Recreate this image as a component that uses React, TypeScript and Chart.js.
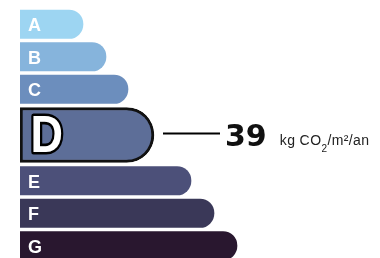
import React, { useEffect, useRef } from "react";
import { Chart, registerables } from "chart.js";

Chart.register(...registerables);

// ---- data ----
const classes: string[] = ["A", "B", "C", "D", "E", "F", "G"];
const barLengths: number[] = [63, 86, 108, 134, 171, 194, 217];
const currentClass = "D";
const currentValue = "39";
const unitMain = "kg CO";
const unitSub = "2";
const unitRest = "/m²/an";

// ---- styles ----
const colors: string[] = ["#9dd5f2", "#86b4dc", "#6c8ebd", "#5d6e98", "#4c5079", "#3a3858", "#29172f"];
const W = 380;
const H = 258;
const TOP = 10;
const GAP = 4;
const THICK = 28.5;
const BIG = 55;

function layoutCenters(): number[] {
  const out: number[] = [];
  let yCur = TOP;
  classes.forEach((c) => {
    const t = c === currentClass ? BIG : THICK;
    out.push(yCur + t / 2);
    yCur += t + GAP;
  });
  return out;
}

const labelPlugin = {
  id: "gesLabels",
  afterDatasetsDraw(chart: any) {
    const ctx: CanvasRenderingContext2D = chart.ctx;
    chart.data.datasets.forEach((ds: any, di: number) => {
      const meta = chart.getDatasetMeta(di);
      meta.data.forEach((el: any, j: number) => {
        const raw: any = ds.data[j];
        const { x, y, base } = el.getProps(["x", "y", "base"], true);
        ctx.save();
        if (raw.cls !== currentClass) {
          const fs = 18;
          ctx.font = `bold ${fs}px "Liberation Sans", Arial, sans-serif`;
          ctx.fillStyle = "#ffffff";
          ctx.textBaseline = "alphabetic";
          ctx.textAlign = "left";
          ctx.fillText(raw.cls, base + 8, y + (0.716 * fs) / 2 + 0.5);
        } else {
          // big outlined letter
          ctx.save();
          ctx.translate(base + 10.5, y + 16.5);
          ctx.scale(1, 1.15);
          ctx.font = `bold 45px "Liberation Sans", Arial, sans-serif`;
          ctx.textBaseline = "alphabetic";
          ctx.lineJoin = "round";
          ctx.lineWidth = 4.5;
          ctx.strokeStyle = "#000000";
          ctx.strokeText(raw.cls, 0, 0);
          ctx.fillStyle = "#ffffff";
          ctx.fillText(raw.cls, 0, 0);
          ctx.restore();

          // connector
          ctx.beginPath();
          ctx.moveTo(x + 9, y - 1.5);
          ctx.lineTo(x + 66, y - 1.5);
          ctx.lineWidth = 2;
          ctx.strokeStyle = "#000000";
          ctx.stroke();

          // value
          const vx = x + 71;
          ctx.font = `bold 30px "DejaVu Sans", Verdana, sans-serif`;
          ctx.fillStyle = "#111111";
          ctx.textBaseline = "alphabetic";
          ctx.fillText(currentValue, vx, y + 10.5);
          const vw = ctx.measureText(currentValue).width;

          // unit
          let ux = vx + vw + 13;
          ctx.fillStyle = "#222222";
          ctx.font = `14px "Liberation Sans", Arial, sans-serif`;
          (ctx as any).letterSpacing = "0.4px";
          ctx.fillText(unitMain, ux, y + 9.5);
          ux += ctx.measureText(unitMain).width;
          ctx.font = `10px "Liberation Sans", Arial, sans-serif`;
          ctx.fillText(unitSub, ux, y + 16.5);
          ux += ctx.measureText(unitSub).width;
          ctx.font = `14px "Liberation Sans", Arial, sans-serif`;
          ctx.fillText(unitRest, ux, y + 9.5);
        }
        ctx.restore();
      });
    });
  },
};

export default function App() {
  const ref = useRef<HTMLCanvasElement | null>(null);

  useEffect(() => {
    if (!ref.current) return;
    const centers = layoutCenters();
    const normal = classes
      .map((c, i) => ({ cls: c, x: barLengths[i], y: centers[i] }))
      .filter((d) => d.cls !== currentClass);
    const highlighted = classes
      .map((c, i) => ({ cls: c, x: barLengths[i], y: centers[i] }))
      .filter((d) => d.cls === currentClass);

    const chart = new Chart(ref.current, {
      type: "bar",
      data: {
        datasets: [
          {
            data: normal as any,
            grouped: false,
            barThickness: THICK,
            borderWidth: 0,
            borderRadius: THICK / 2,
            borderSkipped: "start",
            backgroundColor: (c: any) => colors[classes.indexOf(c.raw?.cls)] || "#000",
          } as any,
          {
            data: highlighted as any,
            grouped: false,
            barThickness: BIG,
            borderWidth: 3,
            borderColor: "#111111",
            borderSkipped: false,
            borderRadius: { topLeft: 0, bottomLeft: 0, topRight: 27.5, bottomRight: 27.5 },
            backgroundColor: (c: any) => colors[classes.indexOf(c.raw?.cls)] || "#000",
          } as any,
        ],
      },
      options: {
        indexAxis: "y",
        responsive: false,
        animation: false,
        layout: { padding: { left: 20, right: 0, top: 0, bottom: 0 } },
        scales: {
          x: { type: "linear", min: 0, max: W - 20, display: false, offset: false },
          y: { type: "linear", min: 0, max: H, reverse: true, display: false, offset: false },
        },
        plugins: { legend: { display: false }, tooltip: { enabled: false } },
      } as any,
      plugins: [labelPlugin],
    });
    return () => chart.destroy();
  }, []);

  return (
    <div style={{ position: "fixed", left: 0, top: 0, width: W, height: H, background: "#ffffff" }}>
      <canvas ref={ref} width={W} height={H} style={{ display: "block", width: W, height: H }} />
    </div>
  );
}
